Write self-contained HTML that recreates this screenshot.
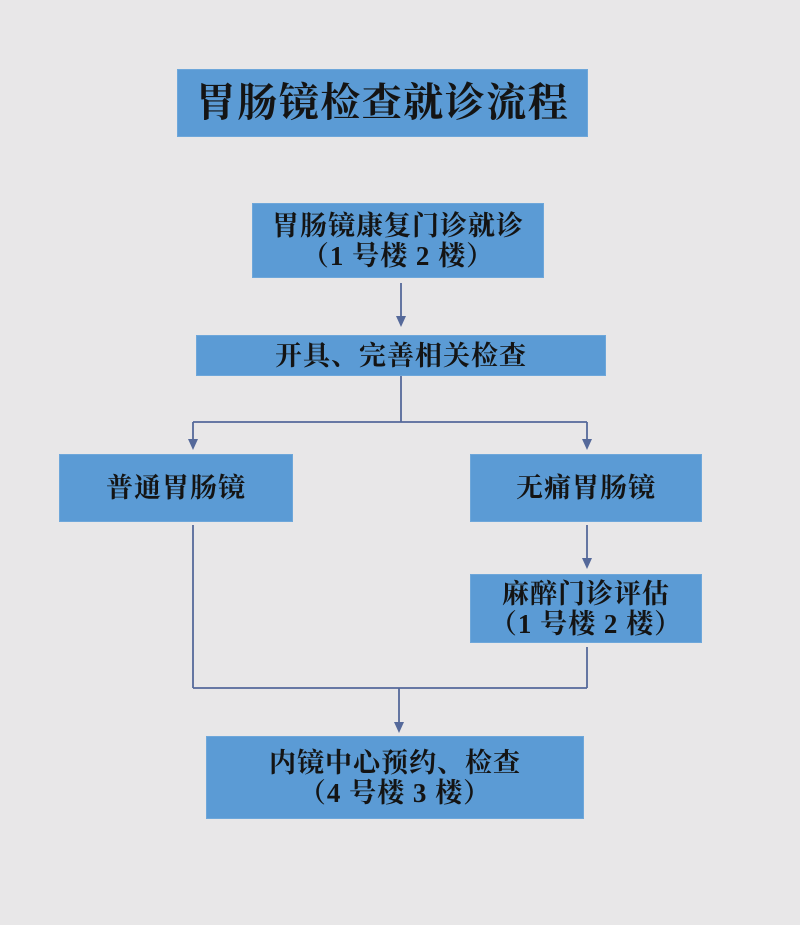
<!DOCTYPE html>
<html>
<head>
<meta charset="utf-8">
<style>
  html,body{margin:0;padding:0;}
  body{width:800px;height:925px;background:#e8e7e8;position:relative;overflow:hidden;
    font-family:"Liberation Serif","Noto Serif CJK SC",serif;font-weight:bold;color:#141414;}
  .box{position:absolute;background:#5b9bd5;box-shadow:0 0 0 1px #6ea7da;
    display:flex;flex-direction:column;align-items:center;justify-content:center;
    font-size:27px;letter-spacing:1px;line-height:30px;text-align:center;}
  .title{font-size:40px;letter-spacing:1.5px;line-height:44px;}
  svg{position:absolute;left:0;top:0;}
</style>
</head>
<body>
<svg width="800" height="925" viewBox="0 0 800 925">
  <g stroke="#55699a" stroke-width="1.8" fill="none">
    <line x1="401" y1="283" x2="401" y2="318"/>
    <line x1="401" y1="375" x2="401" y2="422"/>
    <line x1="193" y1="422" x2="587" y2="422"/>
    <line x1="193" y1="422" x2="193" y2="441"/>
    <line x1="587" y1="422" x2="587" y2="441"/>
    <line x1="587" y1="525" x2="587" y2="560"/>
    <line x1="193" y1="525" x2="193" y2="688"/>
    <line x1="587" y1="647" x2="587" y2="688"/>
    <line x1="193" y1="688" x2="587" y2="688"/>
    <line x1="399" y1="688" x2="399" y2="724"/>
  </g>
  <g fill="#55699a">
    <polygon points="396,316 406,316 401,327"/>
    <polygon points="188,439 198,439 193,450"/>
    <polygon points="582,439 592,439 587,450"/>
    <polygon points="582,558 592,558 587,569"/>
    <polygon points="394,722 404,722 399,733"/>
  </g>
</svg>

<div class="box title" style="left:178px;top:70px;width:409px;height:66px;">胃肠镜检查就诊流程</div>

<div class="box" style="left:253px;top:204px;width:290px;height:73px;">
  <div>胃肠镜康复门诊就诊</div>
  <div>（1 号楼 2 楼）</div>
</div>

<div class="box" style="left:197px;top:336px;width:408px;height:39px;">开具、完善相关检查</div>

<div class="box" style="left:60px;top:455px;width:232px;height:66px;">普通胃肠镜</div>

<div class="box" style="left:471px;top:455px;width:230px;height:66px;">无痛胃肠镜</div>

<div class="box" style="left:471px;top:575px;width:230px;height:67px;">
  <div>麻醉门诊评估</div>
  <div>（1 号楼 2 楼）</div>
</div>

<div class="box" style="left:207px;top:737px;width:376px;height:81px;">
  <div>内镜中心预约、检查</div>
  <div>（4 号楼 3 楼）</div>
</div>
</body>
</html>
